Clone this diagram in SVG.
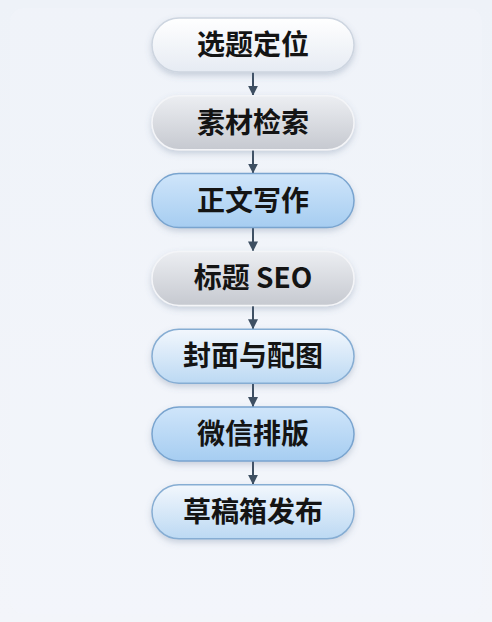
<svg xmlns="http://www.w3.org/2000/svg" width="492" height="622" viewBox="0 0 492 622">
<defs>
<linearGradient id="bg" x1="0" y1="0" x2="0" y2="1">
<stop offset="0" stop-color="#eef2f8"/>
<stop offset="1" stop-color="#f3f5fa"/>
</linearGradient>
<linearGradient id="gWhite" x1="0" y1="0" x2="0" y2="1">
<stop offset="0" stop-color="#ffffff"/>
<stop offset="1" stop-color="#e6ebf3"/>
</linearGradient>
<linearGradient id="gGray" x1="0" y1="0" x2="0" y2="1">
<stop offset="0" stop-color="#eceef2"/>
<stop offset="1" stop-color="#c6c9d0"/>
</linearGradient>
<linearGradient id="gBlue" x1="0" y1="0" x2="0" y2="1">
<stop offset="0" stop-color="#cfe5fa"/>
<stop offset="1" stop-color="#a6cdf1"/>
</linearGradient>
<linearGradient id="gLight" x1="0" y1="0" x2="0" y2="1">
<stop offset="0" stop-color="#f2f7fd"/>
<stop offset="1" stop-color="#bcd9f3"/>
</linearGradient>
<filter id="sh" x="-20%" y="-30%" width="140%" height="170%">
<feDropShadow dx="0" dy="3" stdDeviation="3" flood-color="#5a6f8c" flood-opacity="0.28"/>
</filter>
<marker id="ah" viewBox="0 0 10 10" refX="10" refY="5" markerWidth="10" markerHeight="10" markerUnits="userSpaceOnUse" orient="auto">
<path d="M0,0 L10,5 L0,10 Z" fill="#3e4f62"/>
</marker>
</defs>
<style>
.node rect{filter:url(#sh);stroke-width:1.5}
.white rect{fill:url(#gWhite);stroke:#cdd5e0}
.gray rect{fill:url(#gGray);stroke:#f4f5f8}
.blue rect{fill:url(#gBlue);stroke:#79a4cf}
.light rect{fill:url(#gLight);stroke:#86add3}
.node text{font-family:"Noto Sans CJK SC","Noto Sans",sans-serif;font-weight:700;font-size:28px;fill:#141414;text-anchor:middle}
.conn line{stroke:#3e4f62;stroke-width:2;marker-end:url(#ah)}
</style>
<rect x="0" y="0" width="492" height="622" fill="url(#bg)"/>
<rect x="10" y="8" width="472" height="606" rx="14" fill="#f4f6fb" opacity="0.35"/>
<g id="connectors" class="conn">
<line x1="253" y1="72" x2="253" y2="95.8"/>
<line x1="253" y1="149.8" x2="253" y2="173.6"/>
<line x1="253" y1="227.6" x2="253" y2="251.4"/>
<line x1="253" y1="305.4" x2="253" y2="329.2"/>
<line x1="253" y1="383.2" x2="253" y2="407"/>
<line x1="253" y1="461" x2="253" y2="484.8"/>
</g>
<g id="n1" class="node white">
<rect x="152" y="18" width="202" height="54" rx="27"/>
<text x="253" y="55">选题定位</text>
</g>
<g id="n2" class="node gray">
<rect x="152" y="95.8" width="202" height="54" rx="27"/>
<text x="253" y="132.8">素材检索</text>
</g>
<g id="n3" class="node blue">
<rect x="152" y="173.6" width="202" height="54" rx="27"/>
<text x="253" y="210.6">正文写作</text>
</g>
<g id="n4" class="node gray">
<rect x="152" y="251.4" width="202" height="54" rx="27"/>
<text x="253" y="288.4">标题 SEO</text>
</g>
<g id="n5" class="node light">
<rect x="152" y="329.2" width="202" height="54" rx="27"/>
<text x="253" y="366.2">封面与配图</text>
</g>
<g id="n6" class="node blue">
<rect x="152" y="407" width="202" height="54" rx="27"/>
<text x="253" y="444">微信排版</text>
</g>
<g id="n7" class="node light">
<rect x="152" y="484.8" width="202" height="54" rx="27"/>
<text x="253" y="521.8">草稿箱发布</text>
</g>
</svg>
